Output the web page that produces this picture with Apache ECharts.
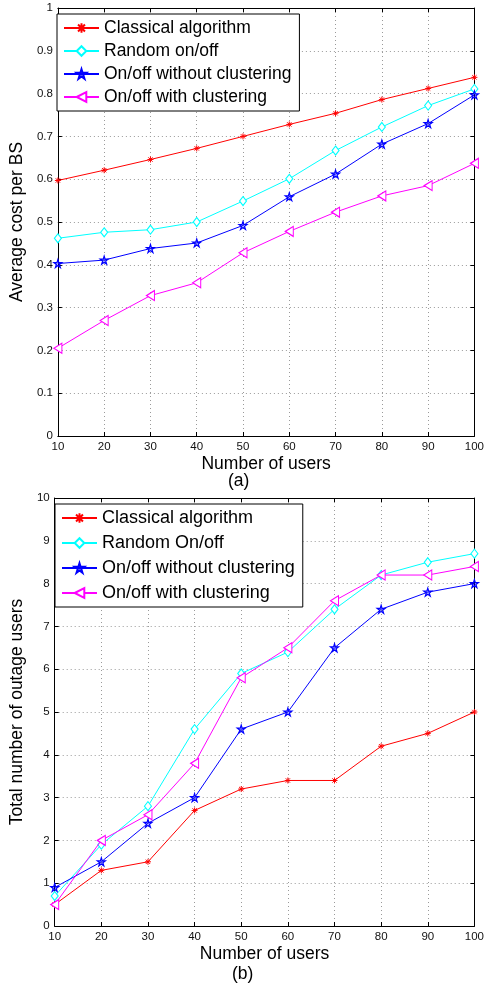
<!DOCTYPE html>
<html>
<head>
<meta charset="utf-8">
<script src="https://cdn.jsdelivr.net/npm/echarts@6/dist/echarts.min.js"></script>
<style>
html, body { margin: 0; padding: 0; background: #fff; }
#c { width: 487px; height: 988px; }
</style>
</head>
<body>
<div id="c"></div>
<script>
// Number of users (x axis, both panels)
const users = [10, 20, 30, 40, 50, 60, 70, 80, 90, 100];

// Panel (a): average cost per BS
const costClassical = [0.597, 0.621, 0.646, 0.672, 0.700, 0.728, 0.754, 0.786, 0.812, 0.838];
const costRandom    = [0.462, 0.476, 0.482, 0.500, 0.549, 0.601, 0.667, 0.722, 0.772, 0.811];
const costNoCluster = [0.403, 0.411, 0.438, 0.451, 0.492, 0.559, 0.612, 0.682, 0.730, 0.797];
const costCluster   = [0.205, 0.270, 0.328, 0.358, 0.428, 0.478, 0.523, 0.561, 0.585, 0.637];

// Panel (b): total number of outage users
const outClassical = [0.5, 1.3, 1.5, 2.7, 3.2, 3.4, 3.4, 4.2, 4.5, 5.0];
const outRandom    = [0.7, 1.9, 2.8, 4.6, 5.9, 6.4, 7.4, 8.2, 8.5, 8.7];
const outNoCluster = [0.9, 1.5, 2.4, 3.0, 4.6, 5.0, 6.5, 7.4, 7.8, 8.0];
const outCluster   = [0.5, 2.0, 2.6, 3.8, 5.8, 6.5, 7.6, 8.2, 8.2, 8.4];

const namesA = ['Classical algorithm', 'Random on/off', 'On/off without clustering', 'On/off with clustering'];
const namesB = ['Classical algorithm', 'Random On/off', 'On/off without clustering', 'On/off with clustering'];

const FONT = 'Liberation Sans, Arial, Helvetica, sans-serif';
const RED = '#ff0000', CYAN = '#00ffff', BLUE = '#0000ff', MAGENTA = '#ff00ff';

// marker shapes
const ASTERISK = 'path://M0,-1L0,1M-1,0L1,0M-0.72,-0.72L0.72,0.72M-0.72,0.72L0.72,-0.72';
const STAR = 'path://M0,-1L0.2245,-0.309L0.951,-0.309L0.363,0.118L0.588,0.809L0,0.382L-0.588,0.809L-0.363,0.118L-0.951,-0.309L-0.2245,-0.309Z';
const TRI_LEFT = 'path://M-1,0L1,-1L1,1Z';

const styles = [
  { color: RED,     symbol: ASTERISK, size: 6, fill: RED, bw: 1 },
  { color: CYAN,    symbol: 'diamond', size: [7, 9], fill: '#ffffff', bw: 1.1 },
  { color: BLUE,    symbol: STAR,     size: 8, fill: 'rgba(0,0,255,0.25)', bw: 1.2 },
  { color: MAGENTA, symbol: TRI_LEFT, size: [8, 10], fill: '#ffffff', bw: 1.1 }
];

function pairs(ys) { return users.map((u, i) => [u, ys[i]]); }

function makeSeries(names, sets, gridIdx) {
  return sets.map((ys, k) => ({
    name: names[k],
    type: 'line',
    xAxisIndex: gridIdx * 2,
    yAxisIndex: gridIdx * 2,
    data: pairs(ys),
    symbol: styles[k].symbol,
    symbolSize: styles[k].size,
    showAllSymbol: true,
    animation: false,
    lineStyle: { color: styles[k].color, width: 1 },
    itemStyle: { color: styles[k].fill, borderColor: styles[k].color, borderWidth: styles[k].bw },
    emphasis: { disabled: true },
    z: 5 + k
  }));
}

const gridLine = { show: true, lineStyle: { color: '#9a9a9a', type: [1, 3], width: 1 } };
const tickLabel = { color: '#111', fontFamily: FONT, fontSize: 11.5 };
const nameText = { color: '#000', fontFamily: FONT, fontSize: 17.5 };

function xAxes(gridIdx) {
  return [
    {
      gridIndex: gridIdx, type: 'value', min: 10, max: 100, interval: 10,
      axisLine: { show: true, onZero: false, lineStyle: { color: '#000', width: 1 } },
      axisTick: { show: true, inside: true, length: 4, lineStyle: { color: '#000' } },
      axisLabel: Object.assign({ margin: 5 }, tickLabel),
      splitLine: gridLine,
      name: 'Number of users', nameLocation: 'middle', nameGap: 19, nameTextStyle: nameText
    },
    {
      gridIndex: gridIdx, type: 'value', min: 10, max: 100, interval: 10, position: 'top',
      axisLine: { show: true, onZero: false, lineStyle: { color: '#000', width: 1 } },
      axisTick: { show: true, inside: true, length: 4, lineStyle: { color: '#000' } },
      axisLabel: { show: false }, splitLine: { show: false }
    }
  ];
}

function yAxes(gridIdx, max, interval, title, gap, labelFmt) {
  return [
    {
      gridIndex: gridIdx, type: 'value', min: 0, max: max, interval: interval,
      axisLine: { show: true, onZero: false, lineStyle: { color: '#000', width: 1 } },
      axisTick: { show: true, inside: true, length: 4, lineStyle: { color: '#000' } },
      axisLabel: Object.assign({ margin: 5, formatter: labelFmt }, tickLabel),
      splitLine: gridLine,
      name: title, nameLocation: 'middle', nameRotate: 90, nameGap: gap, nameTextStyle: nameText
    },
    {
      gridIndex: gridIdx, type: 'value', min: 0, max: max, interval: interval, position: 'right',
      axisLine: { show: true, onZero: false, lineStyle: { color: '#000', width: 1 } },
      axisTick: { show: true, inside: true, length: 4, lineStyle: { color: '#000' } },
      axisLabel: { show: false }, splitLine: { show: false }
    }
  ];
}

function legend(names, top, left, fontSize, gap) {
  return {
    data: names,
    orient: 'vertical',
    left: left, top: top,
    backgroundColor: '#ffffff',
    borderColor: '#000', borderWidth: 1, borderRadius: 0,
    padding: [5, 8, 5, 6],
    itemWidth: 35, itemHeight: 12, itemGap: gap,
    itemTextGap: 3,
    selectedMode: false,
    textStyle: { color: '#000', fontFamily: FONT, fontSize: fontSize, lineHeight: 18 }
  };
}

const chart = echarts.init(document.getElementById('c'), null, { renderer: 'canvas' });
chart.setOption({
  animation: false,
  backgroundColor: '#ffffff',
  grid: [
    { left: 51, right: 9, top: 8, height: 428 },
    { left: 49, right: 10, top: 498, height: 428 }
  ],
  xAxis: [].concat(xAxes(0), xAxes(1)),
  yAxis: [].concat(
    yAxes(0, 1, 0.1, 'Average cost per BS', 20, v => (v === 0 || v === 1) ? String(v) : v.toFixed(1)),
    yAxes(1, 10, 1, 'Total number of outage users', 22, v => String(v))
  ),
  legend: [
    legend(namesA, 14, 57, 17.5, 5),
    legend(namesB, 504, 55, 18, 7)
  ],
  graphic: [
    { type: 'text', left: 228, top: 472, style: { text: '(a)', font: '17.5px ' + FONT, fill: '#000' } },
    { type: 'text', left: 232, top: 965, style: { text: '(b)', font: '17.5px ' + FONT, fill: '#000' } }
  ],
  series: [].concat(
    makeSeries(namesA, [costClassical, costRandom, costNoCluster, costCluster], 0),
    makeSeries(namesB, [outClassical, outRandom, outNoCluster, outCluster], 1)
  )
});
</script>
</body>
</html>
